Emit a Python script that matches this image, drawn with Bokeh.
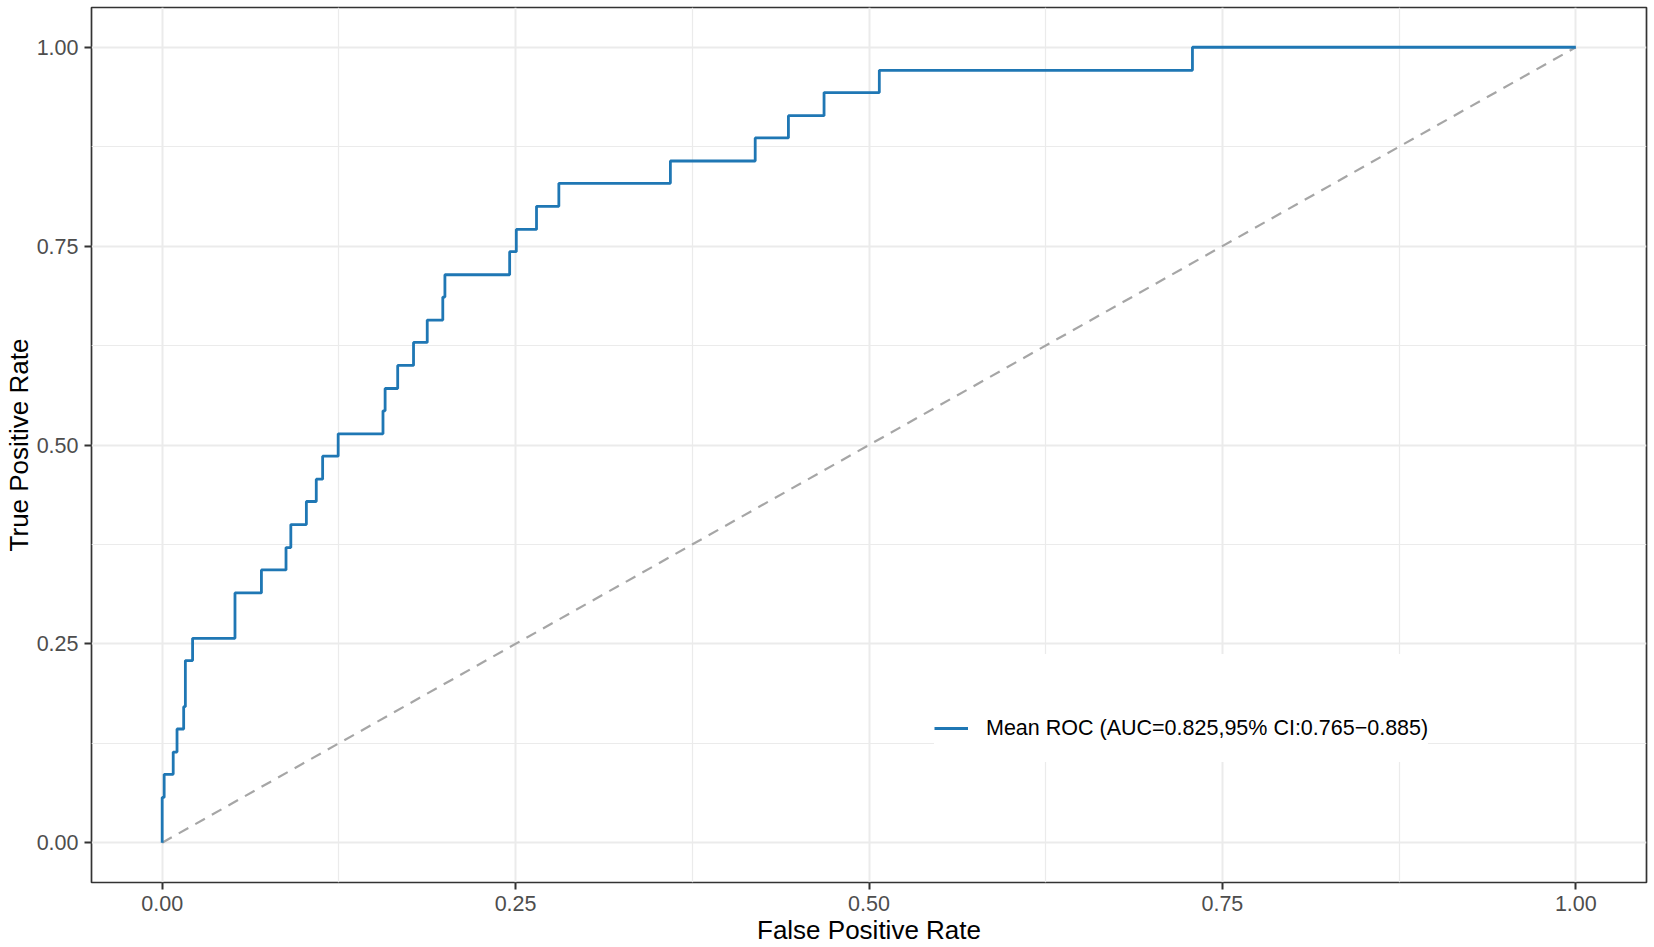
from bokeh.plotting import figure
from bokeh.models import Range1d, FixedTicker, NumeralTickFormatter, Legend, LegendItem
from bokeh.embed import file_html
from bokeh.resources import INLINE

# ROC curve vertices (False Positive Rate, True Positive Rate)
fpr = [0.0, 0.0, 0.0014, 0.0014, 0.0078, 0.0078, 0.0105, 0.0105, 0.0152, 0.0152,
       0.0164, 0.0164, 0.0215, 0.0215, 0.0515, 0.0515, 0.0702, 0.0702, 0.0876, 0.0876,
       0.0910, 0.0910, 0.1020, 0.1020, 0.1090, 0.1090, 0.1135, 0.1135, 0.1245, 0.1245,
       0.1562, 0.1562, 0.1577, 0.1577, 0.1666, 0.1666, 0.1778, 0.1778, 0.1875, 0.1875,
       0.1985, 0.1985, 0.2000, 0.2000, 0.2458, 0.2458, 0.2505, 0.2505, 0.2648, 0.2648,
       0.2806, 0.2806, 0.3595, 0.3595, 0.4195, 0.4195, 0.4430, 0.4430, 0.4682, 0.4682,
       0.5073, 0.5073, 0.7288, 0.7288, 1.0]
tpr = [0.0, 0.057, 0.057, 0.086, 0.086, 0.114, 0.114, 0.143, 0.143, 0.171,
       0.171, 0.229, 0.229, 0.257, 0.257, 0.314, 0.314, 0.343, 0.343, 0.371,
       0.371, 0.400, 0.400, 0.429, 0.429, 0.457, 0.457, 0.486, 0.486, 0.514,
       0.514, 0.543, 0.543, 0.571, 0.571, 0.600, 0.600, 0.629, 0.629, 0.657,
       0.657, 0.686, 0.686, 0.714, 0.714, 0.743, 0.743, 0.771, 0.771, 0.800,
       0.800, 0.829, 0.829, 0.857, 0.857, 0.886, 0.886, 0.914, 0.914, 0.943,
       0.943, 0.971, 0.971, 1.0, 1.0]

chance_x = [0.0, 1.0]
chance_y = [0.0, 1.0]

major_ticks = [0.0, 0.25, 0.5, 0.75, 1.0]
minor_ticks = [0.125, 0.375, 0.625, 0.875]

legend_label = "Mean ROC (AUC=0.825,95% CI:0.765\u22120.885)"
x_title = "False Positive Rate"
y_title = "True Positive Rate"

FONT = "Liberation Sans"

p = figure(width=1648, height=947, output_backend="svg", toolbar_location=None,
           x_range=Range1d(-0.05, 1.05), y_range=Range1d(-0.05, 1.05),
           min_border_left=0, min_border_top=7, min_border_right=2, min_border_bottom=0)
p.background_fill_color = "white"
p.border_fill_color = "white"
p.outline_line_color = "#333333"
p.outline_line_width = 1.7

for ax in (p.xaxis[0], p.yaxis[0]):
    ax.ticker = FixedTicker(ticks=major_ticks, minor_ticks=minor_ticks)
    ax.formatter = NumeralTickFormatter(format="0.00")
    ax.axis_line_color = None
    ax.major_tick_line_color = "#333333"
    ax.major_tick_line_width = 2
    ax.major_tick_out = 7
    ax.major_tick_in = 0
    ax.minor_tick_out = 0
    ax.minor_tick_in = 0
    ax.major_label_text_font = FONT
    ax.major_label_text_font_size = "21.5px"
    ax.major_label_text_color = "#4D4D4D"
    ax.axis_label_text_font = FONT
    ax.axis_label_text_font_size = "26px"
    ax.axis_label_text_font_style = "normal"
    ax.axis_label_text_color = "black"

p.xaxis.axis_label = x_title
p.yaxis.axis_label = y_title
p.xaxis.major_label_standoff = 6
p.yaxis.major_label_standoff = 6
p.xaxis.axis_label_standoff = 1
p.yaxis.axis_label_standoff = 0

for g in (p.xgrid[0], p.ygrid[0]):
    g.grid_line_color = "#EBEBEB"
    g.grid_line_width = 2
    g.minor_grid_line_color = "#EBEBEB"
    g.minor_grid_line_width = 1.2

p.line(chance_x, chance_y, line_color="#A6A6A6", line_width=2.2, line_dash="11 8")
roc = p.line(fpr, tpr, line_color="#1F77B4", line_width=2.8)

legend = Legend(items=[LegendItem(label=legend_label, renderers=[roc])],
                location=(843, 120), title=" ",
                title_text_font_size="21px", title_standoff=16,
                label_text_font=FONT, label_text_font_size="21.5px", label_text_color="black",
                glyph_width=34, glyph_height=68, label_height=68, label_standoff=18,
                padding=15, spacing=0, margin=0,
                background_fill_color="white", background_fill_alpha=1.0,
                border_line_color=None)
p.add_layout(legend)

open("out.html", "w").write(file_html(p, INLINE))
